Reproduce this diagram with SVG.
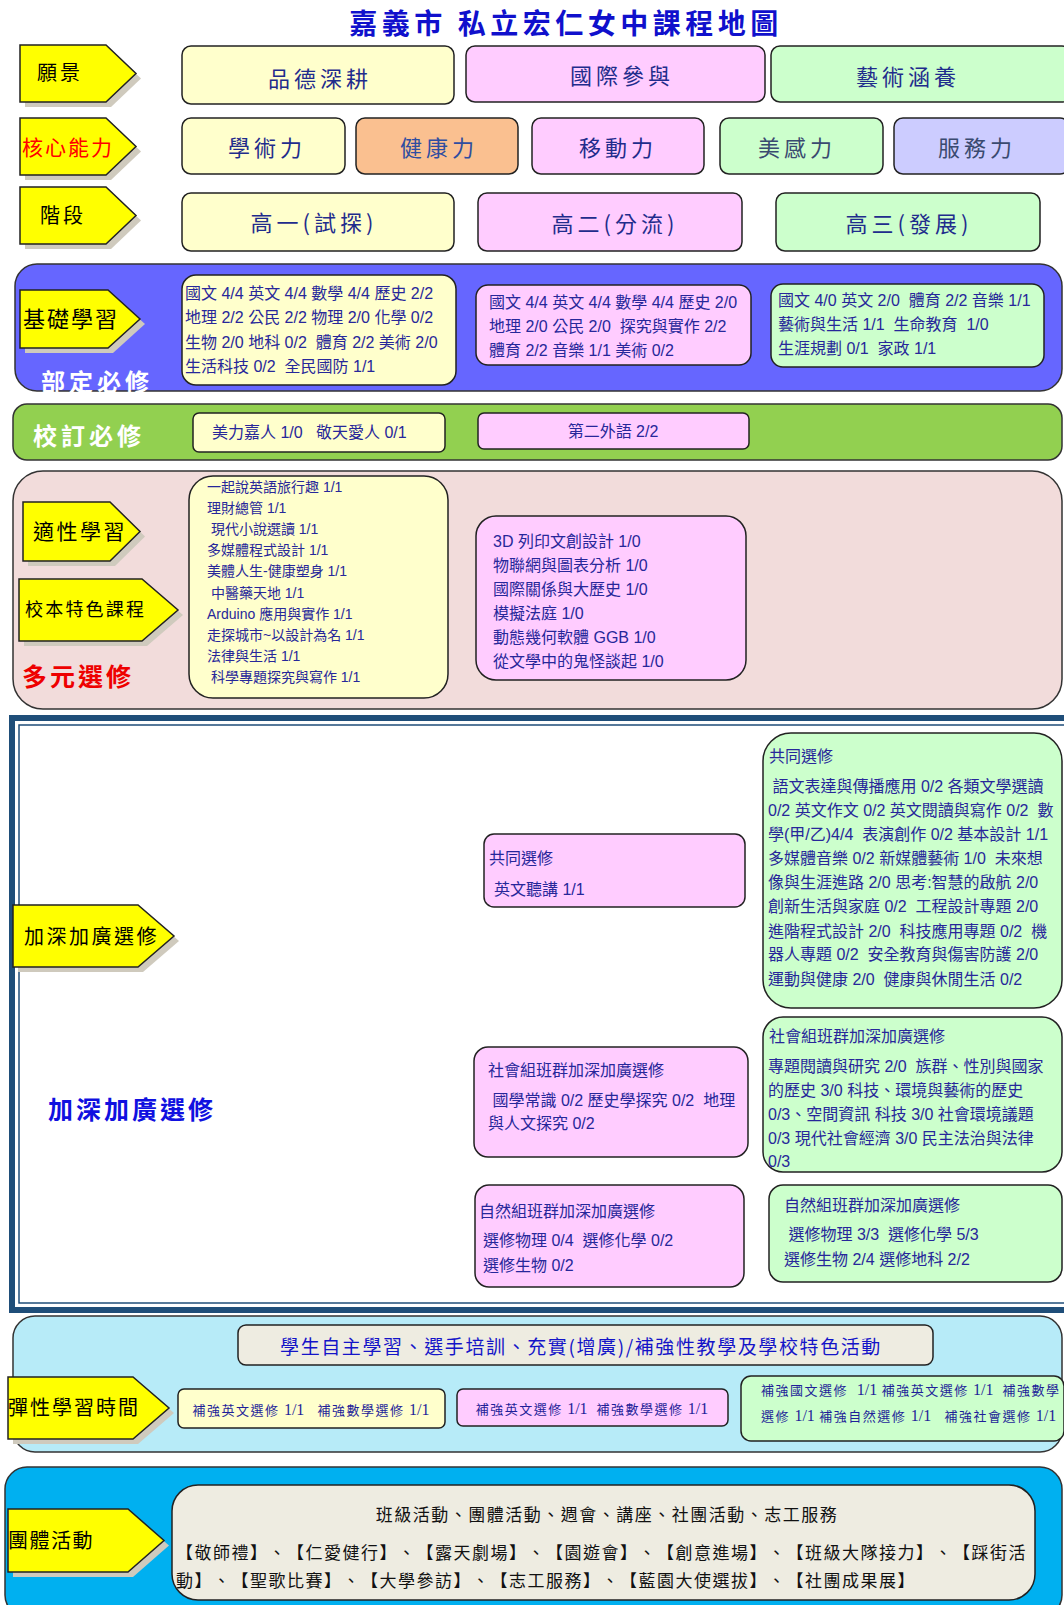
<svg xmlns="http://www.w3.org/2000/svg" width="1064" height="1605" viewBox="0 0 1064 1605">
<style>
text{font-family:"Liberation Sans","Noto Sans CJK TC",sans-serif;white-space:pre;text-spacing-trim:space-all}
.cj{font-family:"Noto Sans CJK TC","Liberation Sans",sans-serif}
.box{stroke:#222;stroke-width:1.5}
.y{fill:#FFFFCC}.p{fill:#FFCCFF}.g{fill:#CCFFCC}.o{fill:#FAC090}.l{fill:#CCCCFF}.bg{fill:#EEECE1}
.arw{fill:#FFFF00;stroke:#222;stroke-width:1.5}
.ash{fill:#CFCABD}
.lab{font-family:"Noto Sans CJK TC",sans-serif;fill:#000}
.top{font-family:"Noto Sans CJK TC",sans-serif;font-size:22px;fill:#1F2C8C;letter-spacing:4px;text-anchor:middle}
.t16{font-size:16px;fill:#27279A}
.t14{font-size:14px;fill:#27279A}
.sec{stroke:#333;stroke-width:1.5}
.sm{font-family:"Noto Sans CJK TC",sans-serif;font-size:13px;fill:#1F1F99;letter-spacing:1.5px}
.dg{font-family:"Liberation Serif",serif;font-size:16px;letter-spacing:0}
</style>
<rect width="1064" height="1605" fill="#fff"/>
<text x="566" y="34" class="cj" font-size="28" font-weight="bold" fill="#1010CC" letter-spacing="4.5" text-anchor="middle">嘉義市 私立宏仁女中課程地圖</text>

<!-- row 1 -->
<g id="arrow-vision"><path class="ash" transform="translate(5,5)" d="M20 45 H106 L136 73.5 L106 102 H20 Z"/><path class="arw" d="M20 45 H106 L136 73.5 L106 102 H20 Z"/><text class="lab" x="37" y="80" font-size="20" letter-spacing="3">願景</text></g>
<g id="v1"><rect class="box y" x="182" y="46" width="272" height="58" rx="9"/><text class="top" x="320" y="87" font-size="23">品德深耕</text></g>
<g id="v2"><rect class="box p" x="466" y="46" width="299" height="56" rx="9"/><text class="top" x="622" y="84" font-size="23">國際參與</text></g>
<g id="v3"><rect class="box g" x="771" y="46" width="300" height="56" rx="9"/><text class="top" x="908" y="85" font-size="23">藝術涵養</text></g>

<!-- row 2 -->
<g id="arrow-core"><path class="ash" transform="translate(5,5)" d="M20 118 H106 L136 146.5 L106 175 H20 Z"/><path class="arw" d="M20 118 H106 L136 146.5 L106 175 H20 Z"/><text class="lab" x="22" y="155" font-size="21" letter-spacing="2" style="fill:#FF0000">核心能力</text></g>
<g id="c1"><rect class="box y" x="182" y="118" width="163" height="56" rx="9"/><text class="top" x="267" y="156" font-size="21">學術力</text></g>
<g id="c2"><rect class="box o" x="356" y="118" width="162" height="56" rx="9"/><text class="top" x="439" y="156" font-size="21" style="fill:#2F4DA0">健康力</text></g>
<g id="c3"><rect class="box p" x="532" y="118" width="172" height="56" rx="9"/><text class="top" x="618" y="156" font-size="21">移動力</text></g>
<g id="c4"><rect class="box g" x="720" y="118" width="163" height="56" rx="9"/><text class="top" x="797" y="156" font-size="21" style="fill:#3A4A70">美感力</text></g>
<g id="c5"><rect class="box l" x="894" y="118" width="175" height="56" rx="9"/><text class="top" x="977" y="156" font-size="21" style="fill:#3A4A70">服務力</text></g>

<!-- row 3 -->
<g id="arrow-stage"><path class="ash" transform="translate(5,5)" d="M20 187 H106 L136 215.5 L106 244 H20 Z"/><path class="arw" d="M20 187 H106 L136 215.5 L106 244 H20 Z"/><text class="lab" x="40" y="223" font-size="20" letter-spacing="3">階段</text></g>
<g id="s1"><rect class="box y" x="182" y="193" width="272" height="58" rx="9"/><text class="top" x="314" y="231" letter-spacing="2">高一(試探)</text></g>
<g id="s2"><rect class="box p" x="478" y="193" width="264" height="58" rx="9"/><text class="top" x="615" y="232" letter-spacing="2">高二(分流)</text></g>
<g id="s3"><rect class="box g" x="776" y="193" width="264" height="58" rx="9"/><text class="top" x="909" y="232" letter-spacing="2">高三(發展)</text></g>

<!-- 部定必修 -->
<g id="sec-required">
<rect class="sec" x="15" y="264" width="1047" height="127" rx="22" fill="#6666FF"/>
<text class="cj" x="41" y="391" font-size="24" font-weight="bold" fill="#fff" letter-spacing="4">部定必修</text>
</g>
<g id="arrow-basic"><path class="ash" transform="translate(5,5)" d="M20 290 H108 L140 319 L108 348 H20 Z"/><path class="arw" d="M20 290 H108 L140 319 L108 348 H20 Z"/><text class="lab" x="23" y="327" font-size="22" letter-spacing="2">基礎學習</text></g>
<g id="req1"><rect class="box y" x="182" y="275" width="274" height="110" rx="14"/>
<text class="t16" x="185" y="299">國文 4/4 英文 4/4 數學 4/4 歷史 2/2</text>
<text class="t16" x="185" y="323">地理 2/2 公民 2/2 物理 2/0 化學 0/2</text>
<text class="t16" x="185" y="348">生物 2/0 地科 0/2  體育 2/2 美術 2/0</text>
<text class="t16" x="185" y="372">生活科技 0/2  全民國防 1/1</text></g>
<g id="req2"><rect class="box p" x="476" y="285" width="275" height="80" rx="12"/>
<text class="t16" x="489" y="308">國文 4/4 英文 4/4 數學 4/4 歷史 2/0</text>
<text class="t16" x="489" y="332">地理 2/0 公民 2/0  探究與實作 2/2</text>
<text class="t16" x="489" y="356">體育 2/2 音樂 1/1 美術 0/2</text></g>
<g id="req3"><rect class="box g" x="771" y="284" width="273" height="83" rx="12"/>
<text class="t16" x="778" y="306">國文 4/0 英文 2/0  體育 2/2 音樂 1/1</text>
<text class="t16" x="778" y="330">藝術與生活 1/1  生命教育  1/0</text>
<text class="t16" x="778" y="354">生涯規劃 0/1  家政 1/1</text></g>

<!-- 校訂必修 -->
<g id="sec-school">
<rect class="sec" x="13" y="404" width="1049" height="56" rx="14" fill="#92D050"/>
<text class="cj" x="33" y="445" font-size="24" font-weight="bold" fill="#fff" letter-spacing="4">校訂必修</text>
</g>
<g id="sch1"><rect class="box y" x="193" y="413" width="252" height="39" rx="6"/><text class="t16" x="212" y="438">美力嘉人 1/0   敬天愛人 0/1</text></g>
<g id="sch2"><rect class="box p" x="478" y="413" width="271" height="36" rx="6"/><text class="t16" x="613" y="437" text-anchor="middle">第二外語 2/2</text></g>

<!-- 多元選修 -->
<g id="sec-multi">
<rect class="sec" x="13" y="471" width="1049" height="238" rx="30" fill="#F2DCDB"/>
<text class="cj" x="22" y="686" font-size="25" font-weight="bold" fill="#EE0000" letter-spacing="3">多元選修</text>
</g>
<g id="arrow-fit"><path class="ash" transform="translate(5,5)" d="M23 502 H110 L140 531.5 L110 561 H23 Z"/><path class="arw" d="M23 502 H110 L140 531.5 L110 561 H23 Z"/><text class="lab" x="33" y="539" font-size="21" letter-spacing="2.5">適性學習</text></g>
<g id="arrow-feature"><path class="ash" transform="translate(5,5)" d="M19 579 H142 L178 610 L142 641 H19 Z"/><path class="arw" d="M19 579 H142 L178 610 L142 641 H19 Z"/><text class="lab" x="25" y="616" font-size="18" letter-spacing="2.2">校本特色課程</text></g>
<g id="multi1"><rect class="box y" x="189" y="476" width="259" height="222" rx="24"/>
<text class="t14" x="207" y="492">一起說英語旅行趣 1/1</text>
<text class="t14" x="207" y="513">理財總管 1/1</text>
<text class="t14" x="207" y="534"> 現代小說選讀 1/1</text>
<text class="t14" x="207" y="555">多媒體程式設計 1/1</text>
<text class="t14" x="207" y="576">美體人生-健康塑身 1/1</text>
<text class="t14" x="207" y="598"> 中醫藥天地 1/1</text>
<text class="t14" x="207" y="619">Arduino 應用與實作 1/1</text>
<text class="t14" x="207" y="640">走探城市~以設計為名 1/1</text>
<text class="t14" x="207" y="661">法律與生活 1/1</text>
<text class="t14" x="207" y="682"> 科學專題探究與寫作 1/1</text></g>
<g id="multi2"><rect class="box p" x="476" y="516" width="270" height="164" rx="20"/>
<text class="t16" x="493" y="547">3D 列印文創設計 1/0</text>
<text class="t16" x="493" y="571">物聯網與圖表分析 1/0</text>
<text class="t16" x="493" y="595">國際關係與大歷史 1/0</text>
<text class="t16" x="493" y="619">模擬法庭 1/0</text>
<text class="t16" x="493" y="643">動態幾何軟體 GGB 1/0</text>
<text class="t16" x="493" y="667">從文學中的鬼怪談起 1/0</text></g>

<!-- 加深加廣選修 -->
<g id="sec-adv">
<rect x="12" y="718" width="1062" height="592" fill="#fff" stroke="#1F4E79" stroke-width="6"/>
<rect x="19" y="725" width="1055" height="578" fill="none" stroke="#1F4E79" stroke-width="1.5"/>
<text class="cj" x="48" y="1119" font-size="25" font-weight="bold" fill="#1010E0" letter-spacing="3">加深加廣選修</text>
</g>
<g id="arrow-adv"><path class="ash" transform="translate(5,5)" d="M13 905 H138 L174 936 L138 967 H13 Z"/><path class="arw" d="M13 905 H138 L174 936 L138 967 H13 Z"/><text class="lab" x="24" y="944" font-size="20" letter-spacing="2.5">加深加廣選修</text></g>
<g id="adv-common-p"><rect class="box p" x="484" y="834" width="261" height="73" rx="10"/>
<text class="t16" x="489" y="864">共同選修</text>
<text class="t16" x="494" y="895">英文聽講 1/1</text></g>
<g id="adv-common-g"><rect class="box g" x="763" y="733" width="299" height="275" rx="28"/>
<text class="t16" x="769" y="762">共同選修</text>
<text class="t16" x="768" y="792"> 語文表達與傳播應用 0/2 各類文學選讀</text>
<text class="t16" x="768" y="816">0/2 英文作文 0/2 英文閱讀與寫作 0/2  數</text>
<text class="t16" x="768" y="840">學(甲/乙)4/4  表演創作 0/2 基本設計 1/1</text>
<text class="t16" x="768" y="864">多媒體音樂 0/2 新媒體藝術 1/0  未來想</text>
<text class="t16" x="768" y="888">像與生涯進路 2/0 思考:智慧的啟航 2/0</text>
<text class="t16" x="768" y="912">創新生活與家庭 0/2  工程設計專題 2/0</text>
<text class="t16" x="768" y="937">進階程式設計 2/0  科技應用專題 0/2  機</text>
<text class="t16" x="768" y="960">器人專題 0/2  安全教育與傷害防護 2/0</text>
<text class="t16" x="768" y="985">運動與健康 2/0  健康與休閒生活 0/2</text></g>
<g id="adv-social-p"><rect class="box p" x="474" y="1047" width="274" height="110" rx="14"/>
<text class="t16" x="488" y="1076">社會組班群加深加廣選修</text>
<text class="t16" x="488" y="1106"> 國學常識 0/2 歷史學探究 0/2  地理</text>
<text class="t16" x="488" y="1129">與人文探究 0/2</text></g>
<g id="adv-social-g"><rect class="box g" x="763" y="1017" width="299" height="155" rx="20"/>
<text class="t16" x="769" y="1042">社會組班群加深加廣選修</text>
<text class="t16" x="768" y="1072">專題閱讀與研究 2/0  族群、性別與國家</text>
<text class="t16" x="768" y="1096">的歷史 3/0 科技、環境與藝術的歷史</text>
<text class="t16" x="768" y="1120">0/3、空間資訊 科技 3/0 社會環境議題</text>
<text class="t16" x="768" y="1144">0/3 現代社會經濟 3/0 民主法治與法律</text>
<text class="t16" x="768" y="1167">0/3</text></g>
<g id="adv-nature-p"><rect class="box p" x="475" y="1185" width="269" height="102" rx="14"/>
<text class="t16" x="479" y="1217">自然組班群加深加廣選修</text>
<text class="t16" x="483" y="1246">選修物理 0/4  選修化學 0/2</text>
<text class="t16" x="483" y="1271">選修生物 0/2</text></g>
<g id="adv-nature-g"><rect class="box g" x="769" y="1185" width="293" height="97" rx="14"/>
<text class="t16" x="784" y="1211">自然組班群加深加廣選修</text>
<text class="t16" x="784" y="1240"> 選修物理 3/3  選修化學 5/3</text>
<text class="t16" x="784" y="1265">選修生物 2/4 選修地科 2/2</text></g>

<!-- 彈性學習時間 -->
<g id="sec-flex">
<rect class="sec" x="13" y="1316" width="1049" height="136" rx="22" fill="#B7EBF8"/>
</g>
<g id="flex-banner"><rect class="box bg" x="238" y="1325" width="695" height="40" rx="8"/><text class="cj" x="581" y="1354" font-size="19" fill="#1414C8" letter-spacing="1.6" text-anchor="middle">學生自主學習、選手培訓、充實(增廣)/補強性教學及學校特色活動</text></g>
<g id="arrow-flex"><path class="ash" transform="translate(5,5)" d="M8 1377 H133 L169 1408 L133 1439 H8 Z"/><path class="arw" d="M8 1377 H133 L169 1408 L133 1439 H8 Z"/><text class="lab" x="8" y="1415" font-size="20" letter-spacing="2">彈性學習時間</text></g>
<g id="flex1"><rect class="box y" x="178" y="1389" width="267" height="39" rx="6"/><text class="sm" x="311" y="1415" text-anchor="middle">補強英文選修 <tspan class="dg">1/1</tspan>   補強數學選修 <tspan class="dg">1/1</tspan></text></g>
<g id="flex2"><rect class="box p" x="457" y="1389" width="271" height="37" rx="6"/><text class="sm" x="592" y="1414" text-anchor="middle">補強英文選修 <tspan class="dg">1/1</tspan>  補強數學選修 <tspan class="dg">1/1</tspan></text></g>
<g id="flex3"><rect class="box g" x="741" y="1376" width="323" height="65" rx="10"/>
<text class="sm" x="761" y="1395" letter-spacing="1.3">補強國文選修  <tspan class="dg">1/1</tspan> 補強英文選修 <tspan class="dg">1/1</tspan>  補強數學</text>
<text class="sm" x="761" y="1421" letter-spacing="1.1">選修 <tspan class="dg">1/1</tspan> 補強自然選修 <tspan class="dg">1/1</tspan>   補強社會選修 <tspan class="dg">1/1</tspan></text></g>

<!-- 團體活動 -->
<g id="sec-group">
<rect class="sec" x="5" y="1467" width="1057" height="150" rx="22" fill="#00B0F0"/>
</g>
<g id="arrow-group"><path class="ash" transform="translate(5,5)" d="M8 1509 H128 L164 1540.5 L128 1572 H8 Z"/><path class="arw" d="M8 1509 H128 L164 1540.5 L128 1572 H8 Z"/><text class="lab" x="8" y="1548" font-size="20" letter-spacing="1.5">團體活動</text></g>
<g id="group-box"><rect class="box bg" x="172" y="1485" width="863" height="115" rx="26"/>
<text class="cj" x="607" y="1521" font-size="17" fill="#111" letter-spacing="1.5" text-anchor="middle">班級活動、團體活動、週會、講座、社團活動、志工服務</text>
<text class="cj" x="176" y="1559" font-size="17" fill="#111" letter-spacing="1.5">【敬師禮】、【仁愛健行】、【露天劇場】、【園遊會】、【創意進場】、【班級大隊接力】、【踩街活</text>
<text class="cj" x="176" y="1587" font-size="17" fill="#111" letter-spacing="1.5">動】、【聖歌比賽】、【大學參訪】、【志工服務】、【藍園大使選拔】、【社團成果展】</text></g>
</svg>
